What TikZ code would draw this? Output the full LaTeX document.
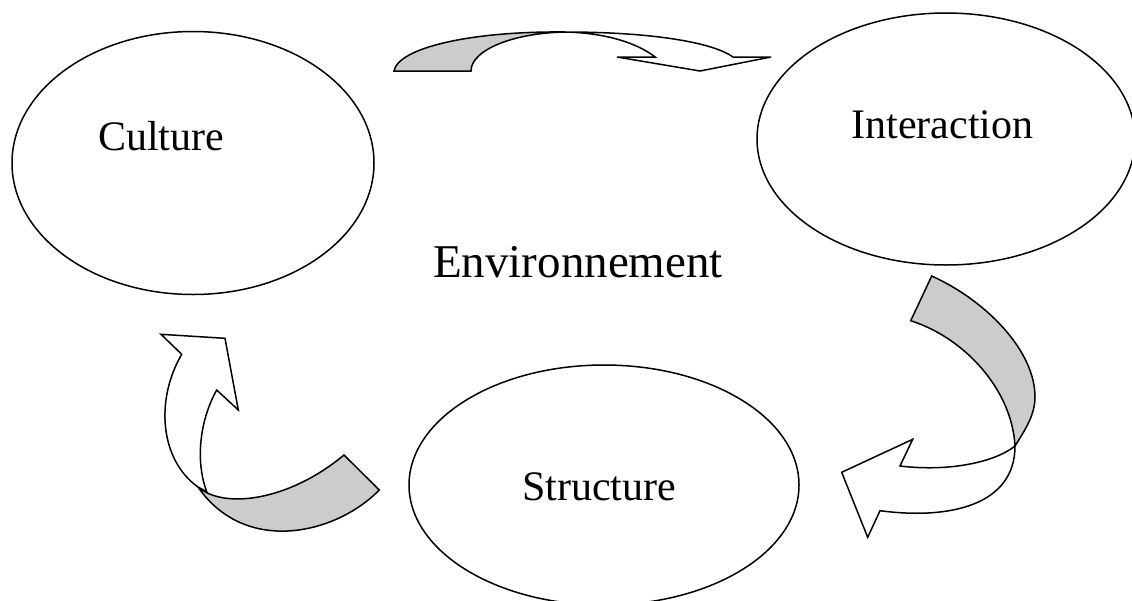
\documentclass[tikz,border=0pt]{standalone}
\usepackage{fontspec}
\setmainfont{Liberation Serif}
\usetikzlibrary{shapes.geometric}
\definecolor{backface}{RGB}{204,204,204}
\tikzset{
  cyclenode/.style={draw, ellipse, line width=1.5pt, inner sep=0pt},
  cyclelabel/.style={anchor=base, inner sep=0pt, font=\fontsize{42}{50}\selectfont},
  envlabel/.style={anchor=base, inner sep=0pt, font=\fontsize{47}{56}\selectfont},
  backpart/.style={fill=backface, draw, line width=1.5pt, line join=miter},
  frontpart/.style={fill=white, draw, line width=1.5pt, line join=miter},
}
\begin{document}
\begin{tikzpicture}[x=1pt, y=-1pt]
  \clip (0,0) rectangle (1132,600);
  \fill[white] (0,0) rectangle (1132,600);

  % the three ellipses
  \node[cyclenode, minimum width=362pt, minimum height=263pt] (culture) at (193,163) {};
  \node[cyclenode, minimum width=378pt, minimum height=252pt] (interaction) at (946,139) {};
  \node[cyclenode, minimum width=390pt, minimum height=240pt] (structure) at (604,485) {};

  % labels
  \node[cyclelabel] (culturetext) at (161,150.7) {Culture};
  \node[cyclelabel] (interactiontext) at (942.5,138) {Interaction};
  \node[cyclelabel] (structuretext) at (599,500) {Structure};
  \node[envlabel] (envtext) at (578,277) {Environnement};

  % curved arrow: Culture -> Interaction
  \path[backpart] (394,71) -- (471,71)
    .. controls (471,50) and (513,33) .. (565,32)
    .. controls (470,31) and (398,48) .. (394,71) -- cycle;
  \path[frontpart] (565,32)
    .. controls (650,32) and (712,42) .. (733,57)
    -- (771,57) -- (700,71) -- (617,57) -- (655,57)
    .. controls (640,45) and (610,33) .. (565,32) -- cycle;

  % curved arrow: Interaction -> Structure
  \path[backpart] (931.7,276)
    .. controls (985,300) and (1035,350) .. (1035,397)
    .. controls (1035,415) and (1025,430) .. (1015,446)
    .. controls (1012,390) and (965,338) .. (910.7,320.7) -- cycle;
  \path[frontpart] (1015,446)
    .. controls (995,462) and (950,472) .. (900,466)
    -- (912.7,439.3) -- (841.7,472.3) -- (867.7,537.3) -- (880,510.7)
    .. controls (950,520) and (1015,505) .. (1015,446) -- cycle;

  % curved arrow: Structure -> Culture
  \path[backpart] (379.3,490)
    .. controls (335,535) and (245,555) .. (198,487)
    .. controls (225,510) and (290,500) .. (344,455) -- cycle;
  \path[frontpart] (198,487)
    .. controls (160,460) and (155,400) .. (181.7,354.3)
    -- (161,334.3) -- (225,338.3) -- (238.3,410) -- (216.7,390)
    .. controls (200,420) and (195,460) .. (206.7,491.7) -- cycle;
\end{tikzpicture}
\end{document}
